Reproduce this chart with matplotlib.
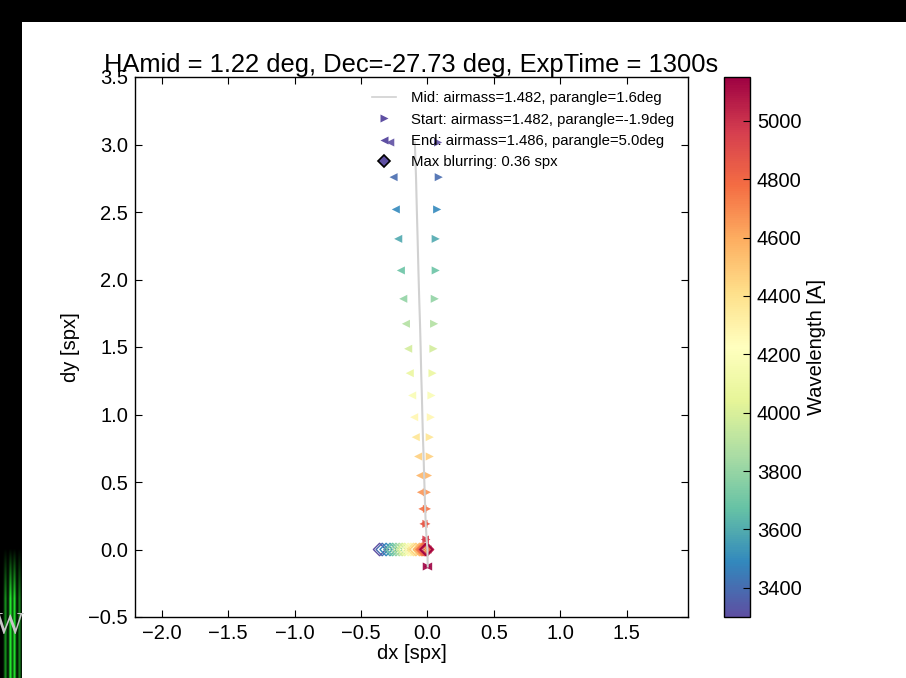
"""Differential atmospheric refraction track across the exposure, per wavelength."""
import matplotlib
matplotlib.use("Agg")
import matplotlib.pyplot as plt
from matplotlib.colors import Normalize
from matplotlib.lines import Line2D
import numpy as np

plt.rcParams["font.family"] = ["Liberation Sans", "DejaVu Sans"]
plt.rcParams["xtick.direction"] = "in"
plt.rcParams["ytick.direction"] = "in"
plt.rcParams["xtick.top"] = True
plt.rcParams["ytick.right"] = True

# wavelengths sampled [A]
wavelengths = [3300, 3397, 3495, 3592, 3689, 3787, 3884, 3981, 4079, 4176,
               4274, 4371, 4468, 4566, 4663, 4760, 4858, 4955, 5053, 5150]
# vertical offset (same at start / mid / end) [spx]
dy = [3.015, 2.758, 2.519, 2.301, 2.067, 1.857, 1.672, 1.487, 1.306, 1.141,
      0.980, 0.832, 0.689, 0.548, 0.424, 0.301, 0.190, 0.074, 0.0, -0.126]
# horizontal offsets at start, middle and end of the exposure [spx]
dx_start = [0.080, 0.085, 0.073, 0.062, 0.062, 0.055, 0.050, 0.045, 0.038, 0.030,
            0.025, 0.017, 0.017, 0.004, -0.004, -0.004, -0.008, -0.008, 0.0, -0.005]
dx_mid = [-0.095, -0.086, -0.080, -0.074, -0.068, -0.062, -0.056, -0.051, -0.047, -0.042,
          -0.038, -0.034, -0.029, -0.025, -0.021, -0.017, -0.013, -0.006, 0.0, 0.002]
dx_end = [-0.280, -0.255, -0.238, -0.220, -0.200, -0.182, -0.162, -0.145, -0.133, -0.115,
          -0.100, -0.088, -0.070, -0.056, -0.049, -0.038, -0.030, -0.019, 0.0, 0.005]

ha_mid, dec, exptime = 1.22, -27.73, 1300
airmass = {"Mid": 1.482, "Start": 1.482, "End": 1.486}
parangle = {"Mid": 1.6, "Start": -1.9, "End": 5.0}

W, H = 906, 678
fig = plt.figure(figsize=(W / 100, H / 100), dpi=100)

# slide frame around the figure
bg = fig.add_axes([0, 0, 1, 1], zorder=-10)
bg.axis("off")
bg.add_patch(plt.Rectangle((0, 0), W, 22, color="black", lw=0, zorder=1))
side = plt.Rectangle((0, 0), 22, H, color="black", lw=0, zorder=1)
bg.add_patch(side)
strip = np.zeros((140, 22, 3))
cols = np.arange(22)
glow = np.zeros(22)
for c, amp in [(5, 0.6), (10, 1.0), (14, 0.95), (19, 0.55)]:
    glow += amp * np.exp(-0.5 * ((cols - c) / 1.1) ** 2)
fade = np.clip((np.arange(140) - 10) / 50.0, 0, 1)[:, None]
strip[:, :, 1] = np.clip(glow[None, :] * fade, 0, 1) * 0.9
strip[:, :, 0] = strip[:, :, 1] * 0.15
strip[:, :, 2] = strip[:, :, 1] * 0.2
bg.imshow(strip, extent=(0, 22, H, H - 140), aspect="auto",
          interpolation="bilinear", zorder=2)
bg.set_xlim(0, W)
bg.set_ylim(H, 0)
wtxt = bg.text(24, 626, "W", ha="right", va="center", fontsize=22,
               family="Liberation Serif", color="#c8c8c8", zorder=3)
wtxt.set_clip_path(side)

ax = fig.add_axes([135 / W, 61 / H, 553 / W, 540 / H])
cax = fig.add_axes([724 / W, 61 / H, 26 / W, 540 / H])

cmap = plt.get_cmap("Spectral_r")
norm = Normalize(vmin=min(wavelengths), vmax=max(wavelengths))
wl = np.array(wavelengths)
blur = np.abs(np.array(dx_start) - np.array(dx_end))

ax.scatter(dx_start, dy, c=wl, cmap=cmap, norm=norm, marker=">", s=34,
           edgecolors="none", alpha=0.9, zorder=2)
ax.scatter(dx_end, dy, c=wl, cmap=cmap, norm=norm, marker="<", s=34,
           edgecolors="none", alpha=0.9, zorder=2)
ax.scatter(-blur, np.zeros_like(blur), marker="D", s=40,
           facecolors="none", edgecolors=cmap(norm(wl)), linewidths=1.0,
           zorder=2)
ax.plot(dx_mid, dy, color="0.82", lw=1.5, zorder=3)

first = cmap(norm(wl[0]))
handles = [
    Line2D([], [], color="0.82", lw=1.2),
    Line2D([], [], ls="none", marker=">", ms=6, color=first, mec="none"),
    Line2D([], [], ls="none", marker="<", ms=6, color=first, mec="none"),
    Line2D([], [], ls="none", marker="D", ms=6, mfc=first, mec="black", mew=1.2),
]
labels = [
    f"{k}: airmass={airmass[k]:.3f}, parangle={parangle[k]:.1f}deg"
    for k in ("Mid", "Start", "End")
] + [f"Max blurring: {blur.max():.2f} spx"]
ax.legend(handles, labels, loc="upper right", frameon=False, fontsize=10.7,
          numpoints=1, handlelength=1.6, handletextpad=1.0, labelspacing=0.5,
          borderaxespad=0.55, borderpad=0.4)

ax.set_xlim(-2.2, 1.96)
ax.set_ylim(-0.5, 3.5)
ax.tick_params(labelsize=14.5, length=5, width=0.8, pad=5)
ax.set_xlabel("dx [spx]", fontsize=14.5, labelpad=1)
ax.set_ylabel("dy [spx]", fontsize=14.5, labelpad=6)
ax.set_title(f"HAmid = {ha_mid:.2f} deg, Dec={dec:.2f} deg, ExpTime = {exptime}s",
             fontsize=18.4, pad=1)
for s in ax.spines.values():
    s.set_linewidth(1.0)

sm = plt.cm.ScalarMappable(norm=norm, cmap=cmap)
cb = fig.colorbar(sm, cax=cax)
cb.set_ticks([3400, 3600, 3800, 4000, 4200, 4400, 4600, 4800, 5000])
cb.ax.tick_params(labelsize=14.5, direction="in", length=5, width=0.8, pad=5)
cb.set_label("Wavelength [A]", fontsize=14.5, labelpad=4)
cb.outline.set_linewidth(1.0)

fig.savefig("out.png", dpi=100)
